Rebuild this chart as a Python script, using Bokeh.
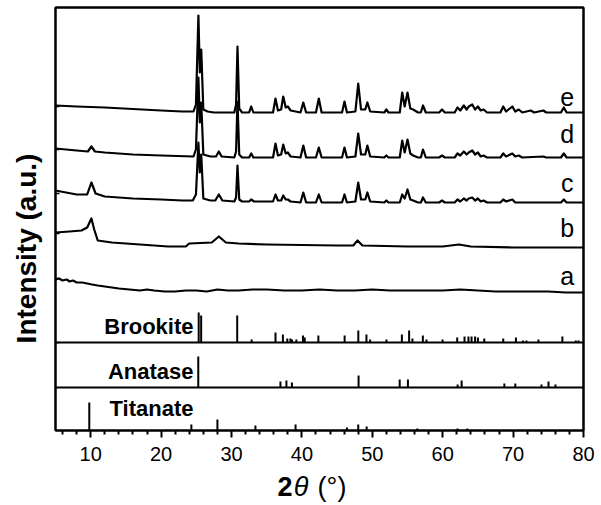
from bokeh.plotting import figure
from bokeh.models import Label, Span, FixedTicker, LinearAxis
from bokeh.layouts import row, column
from bokeh.core.properties import value
from bokeh.embed import file_html
from bokeh.resources import INLINE

# ---------------- data (2theta in degrees, intensity in a.u.) ----------------
e_x = [5, 8, 12, 16, 20, 23, 24.6, 24.95, 25.3, 25.5, 25.7, 26.0, 26.6, 27.5, 30.4, 30.65, 30.85, 31.1, 31.5,
       32.5, 32.8, 33.1, 35.9, 36.25, 36.6, 37.05, 37.35, 37.7, 38.0, 38.4, 39.8, 40.2, 40.6, 42.0, 42.4, 42.8,
       45.7, 46.05, 46.4, 47.6, 48.0, 48.4, 49.0, 49.3, 49.7, 51.7, 52.0, 52.3, 53.9, 54.25, 54.6, 55.0, 55.4,
       55.8, 56.5, 56.9, 57.2, 57.6, 59.5, 59.9, 60.3, 61.7, 62.1, 62.5, 63.0, 63.4, 63.7, 64.2, 64.6, 65.0,
       65.4, 65.8, 66.3, 68.2, 68.6, 69.0, 69.9, 70.3, 70.8, 71.3, 72.5, 73.0, 74.3, 74.7, 76.8, 77.2, 77.6, 80]
e_y = [7, 6, 5, 3.5, 2, 1, 1, 8, 97, 40, 63, 3, 1, 0, 0, 8, 66, 4, 0,
       0, 6, 0, 0, 14, 2, 3, 16, 5, 6, 2, 0, 10, 0, 0, 14, 0,
       0, 11, 0, 1, 29, 3, 3, 10, 1, 0, 3, 0, 0, 20, 6, 20, 4,
       3, 0, 0, 7, 0, 0, 3, 0, 0, 5, 2, 7, 3, 6, 8, 3, 6,
       2, 3, 0, 0, 6, 1, 6, 1, 3, 0, 2, 0, 2, 0, 0, 5, 0, 0]

d_x = [5, 8, 9.6, 10.1, 10.6, 12, 16, 20, 24.6, 24.95, 25.3, 25.5, 25.7, 26.0, 27.0, 27.8, 28.2, 28.6, 30.4,
       30.65, 30.85, 31.1, 31.5, 32.5, 32.8, 33.1, 35.9, 36.25, 36.6, 37.05, 37.35, 37.7, 38.0, 38.4, 39.8, 40.2,
       40.6, 42.0, 42.4, 42.8, 45.7, 46.05, 46.4, 47.6, 48.0, 48.4, 49.0, 49.3, 49.7, 51.7, 52.0, 52.3, 53.9,
       54.25, 54.6, 55.0, 55.4, 55.8, 56.5, 56.9, 57.2, 57.6, 59.5, 59.9, 60.3, 61.7, 62.1, 62.5, 63.0, 63.4,
       63.7, 64.2, 64.6, 65.0, 65.4, 65.8, 66.3, 68.2, 68.6, 69.0, 69.9, 70.3, 70.8, 71.3, 74.3, 74.7, 76.8,
       77.2, 77.6, 80]
d_y = [9, 7, 6, 11, 6, 5, 3, 2, 1, 8, 80, 35, 55, 3, 1, 1, 6, 1, 0,
       6, 56, 3, 0, 0, 4, 0, 0, 14, 2, 3, 13, 4, 5, 1, 0, 12,
       0, 0, 10, 0, 0, 10, 0, 1, 24, 3, 3, 12, 1, 0, 2, 0, 0,
       17, 5, 18, 4, 2, 0, 0, 8, 0, 0, 2, 0, 0, 4, 2, 6, 3,
       5, 7, 3, 5, 1, 2, 0, 0, 4, 1, 4, 1, 2, 0, 1, 0, 0,
       4, 0, 0]

c_x = [5, 8, 9.5, 10.1, 10.7, 12, 16, 20, 23, 24.5, 24.95, 25.3, 25.5, 25.7, 26.0, 27.0, 27.7, 28.2, 28.7,
       30.4, 30.65, 30.85, 31.1, 31.5, 32.5, 32.8, 33.2, 35.9, 36.25, 36.6, 37.05, 37.35, 37.7, 38.0, 38.4,
       39.8, 40.2, 40.6, 42.0, 42.4, 42.8, 45.7, 46.05, 46.4, 47.6, 48.0, 48.4, 49.0, 49.3, 49.7, 51.7, 52.0,
       52.3, 53.9, 54.25, 54.6, 55.0, 55.4, 55.8, 56.5, 56.9, 57.2, 57.6, 59.5, 59.9, 60.3, 61.7, 62.1, 62.5,
       63.0, 63.4, 63.7, 64.2, 64.6, 65.0, 65.4, 65.8, 66.3, 68.2, 68.6, 69.0, 69.9, 70.3, 76.8, 77.2, 77.6, 80]
c_y = [12, 8, 8, 20, 9, 6, 4, 3, 2, 2, 8, 60, 30, 48, 4, 2, 2, 8, 2,
       1, 5, 37, 3, 1, 1, 3, 1, 1, 8, 2, 2, 7, 3, 3, 1,
       0, 10, 0, 0, 8, 0, 0, 8, 0, 1, 20, 3, 3, 10, 1, 0, 2,
       0, 0, 8, 4, 13, 3, 2, 0, 0, 5, 0, 0, 2, 0, 0, 3, 1,
       4, 2, 4, 5, 2, 4, 1, 2, 0, 0, 3, 1, 3, 0, 0, 3, 0, 0]

b_x = [5, 7, 8.7, 9.5, 10.1, 10.5, 11.0, 13, 17, 21, 23.5, 24.0, 27.2, 28.2, 29.2, 31, 35, 45, 47.3, 47.9,
       48.6, 55, 60, 62.3, 64, 70, 80]
b_y = [15, 16, 17, 20, 29, 18, 7, 5, 3, 1, 1, 4, 5, 11, 5, 4, 3, 2, 2, 7,
       2, 1, 1, 3, 1, 0, 0]

a_x = [5, 5.5, 6, 6.6, 7, 7.5, 8, 8.8, 9.5, 10.2, 11, 12, 13, 14, 15.5, 17, 18, 19, 20.5, 22, 23.5, 25, 26.5,
       28, 29.5, 31, 33, 35, 37.5, 40, 42.5, 45, 47.5, 50, 52.5, 55, 57.5, 60, 62.5, 65, 67.5, 70, 72.5, 75,
       77.5, 80]
a_y = [12, 13, 11, 12, 10, 11, 9, 9, 8, 7, 6, 5, 4, 3, 2, 1, 2, 1, 0, 0, 1, 1, 0,
       2, 1, 1, 2, 2, 1, 1, 2, 1, 1, 2, 1, 1, 1, 1, 2, 1, 0, 0, 0, 0,
       -1, -1]

brookite_pos = [25.34, 25.69, 30.81, 32.86, 36.25, 37.3, 37.93, 38.37, 38.6, 39.21, 40.15, 40.4, 42.34, 46.07,
                48.01, 49.17, 49.69, 52.01, 54.2, 55.23, 55.7, 57.18, 57.7, 59.98, 62.06, 63.1, 63.66, 64.1,
                64.6, 65.0, 65.9, 68.6, 70.4, 71.4, 71.9, 73.6, 77.0, 78.9, 79.3]
brookite_int = [30, 27, 27, 3, 10, 8, 4, 4, 3, 3, 7, 5, 7, 7,
                12, 8, 3, 3, 8, 12, 4, 7, 3, 3, 5, 6, 6, 6,
                6, 5, 4, 4, 5, 2, 2, 3, 6, 2, 2]
anatase_pos = [25.28, 36.95, 37.8, 38.58, 48.05, 53.89, 55.06, 62.12, 62.69, 68.76, 70.31, 74.03, 75.03, 76.02]
anatase_int = [31, 6, 7, 5, 12, 8, 8, 3, 7, 4, 4, 3, 6, 3]
titanate_pos = [9.8, 24.3, 28.0, 33.4, 39.1, 46.4, 48.0, 49.2, 56.4, 62.1, 63.5]
titanate_int = [28, 6, 11, 5, 6, 3, 6, 4, 2, 2, 2]

curve_labels = ["e", "d", "c", "b", "a"]
ref_names = ["Brookite", "Anatase", "Titanate"]
x_ticks = [10, 20, 30, 40, 50, 60, 70, 80]
x_minor = [6, 8, 12, 14, 16, 18, 22, 24, 26, 28, 32, 34, 36, 38, 42, 44, 46, 48, 52, 54, 56, 58,
           62, 64, 66, 68, 72, 74, 76, 78]
y_title = "Intensity (a.u.)"
x_title_parts = ["2", "\u03b8", "(\u00b0)"]

# ---------------- layout (pixel-like vertical units) ----------------
curve_offsets = [318, 273, 228, 183, 139]
label_y = [334, 297, 248, 203, 155]
ref_offsets = [88, 43, 0]
ref_label_y = [104, 59, 22]
left_ticks = [324, 281, 237, 197, 152, 88]

FONT = "Liberation Sans"
LEFT_W = 48
MAIN_W = 552
MAIN_H = 471
TOTAL_H = 505
BELOW_H = TOTAL_H - MAIN_H

p = figure(width=MAIN_W, height=MAIN_H, x_range=(5, 80), y_range=(0, 423),
           output_backend="svg", toolbar_location=None,
           min_border_left=55 - LEFT_W, min_border_right=17, min_border_top=7, min_border_bottom=41)
p.background_fill_color = "white"
p.border_fill_color = "white"
p.xgrid.visible = False
p.ygrid.visible = False
p.outline_line_color = "black"
p.outline_line_width = 2

ax = p.xaxis[0]
ax.ticker = FixedTicker(ticks=x_ticks, minor_ticks=x_minor)
ax.axis_line_width = 2
ax.major_tick_line_width = 2
ax.minor_tick_line_width = 2
ax.major_tick_out = 7
ax.major_tick_in = 0
ax.minor_tick_out = 4
ax.minor_tick_in = 0
ax.major_label_text_font = FONT
ax.major_label_text_font_size = "20px"
ax.major_label_text_color = "black"
ax.major_label_standoff = 9

ay = p.yaxis[0]
ay.ticker = FixedTicker(ticks=left_ticks, minor_ticks=[])
ay.axis_line_width = 2
ay.major_tick_line_width = 1.5
ay.major_tick_in = 4
ay.major_tick_out = 0
ay.major_label_standoff = 0
ay.major_label_overrides = {t: "" for t in left_ticks}

for side in ["right", "above"]:
    extra = LinearAxis(ticker=FixedTicker(ticks=[], minor_ticks=[]), axis_line_width=2,
                       major_label_standoff=0)
    p.add_layout(extra, side)

# curves
for xs, ys, off in zip([e_x, d_x, c_x, b_x, a_x], [e_y, d_y, c_y, b_y, a_y], curve_offsets):
    p.line(xs, [y + off for y in ys], line_color="black", line_width=2.2, line_join="round")

for name, yy in zip(curve_labels, label_y):
    p.add_layout(Label(x=77.7, y=yy, text=name, text_font=FONT, text_font_size="25px",
                       text_align="center", text_baseline="middle", text_color="black"))

# reference stick patterns
for pos, inten, off in zip([brookite_pos, anatase_pos, titanate_pos],
                           [brookite_int, anatase_int, titanate_int], ref_offsets):
    p.segment(x0=pos, y0=[off] * len(pos), x1=pos, y1=[off + v for v in inten],
              line_color="black", line_width=2)

for off in ref_offsets[:2]:
    p.add_layout(Span(location=off, dimension="width", line_color="black", line_width=2))

for name, yy in zip(ref_names, ref_label_y):
    p.add_layout(Label(x=24.6, y=yy, text=name, text_font=FONT, text_font_size="22px",
                       text_font_style="bold", text_align="right", text_baseline="middle",
                       text_color="black"))


def strip(w, h):
    f = figure(width=w, height=h, x_range=(0, w), y_range=(0, h), output_backend="svg",
               toolbar_location=None, min_border=0)
    f.axis.visible = False
    f.grid.visible = False
    f.outline_line_color = None
    f.background_fill_color = "white"
    f.border_fill_color = "white"
    return f


# y-axis title strip (left)
left = strip(LEFT_W, TOTAL_H)
left.text(x=[26], y=[TOTAL_H - 248], text=[y_title], angle=1.5707963, text_font=value(FONT),
          text_font_size="28px", text_font_style="bold", text_align="center",
          text_baseline="middle", text_color="black")

# x-axis title strip (below)
below = strip(MAIN_W, BELOW_H)
ty = TOTAL_H - 486
below.text(x=[280 - LEFT_W], y=[ty], text=[x_title_parts[0]], text_font=value(FONT),
           text_font_size="27px", text_font_style="bold", text_align="left", text_baseline="middle",
           text_color="black")
below.text(x=[297 - LEFT_W], y=[ty], text=[x_title_parts[1]], text_font=value(FONT),
           text_font_size="27px", text_font_style="italic", text_align="left", text_baseline="middle",
           text_color="black")
below.text(x=[322 - LEFT_W], y=[ty], text=[x_title_parts[2]], text_font=value(FONT),
           text_font_size="27px", text_align="left", text_baseline="middle", text_color="black")

layout = row(left, column(p, below))
open("out.html", "w").write(file_html(layout, INLINE))
